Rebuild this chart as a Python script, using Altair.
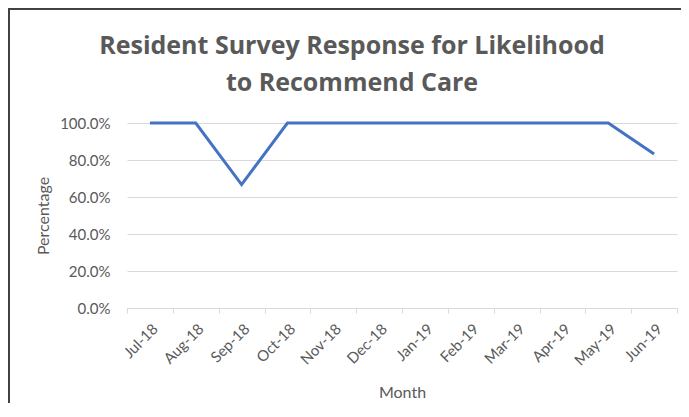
import altair as alt
import pandas as pd

months = ["Jul-18", "Aug-18", "Sep-18", "Oct-18", "Nov-18", "Dec-18",
          "Jan-19", "Feb-19", "Mar-19", "Apr-19", "May-19", "Jun-19"]
values = [1.0, 1.0, 0.667, 1.0, 1.0, 1.0, 1.0, 1.0, 1.0, 1.0, 1.0, 0.833]
y_ticks = [0, 0.2, 0.4, 0.6, 0.8, 1.0]

df = pd.DataFrame({"Month": months, "Percentage": values})

FONT = "Lato"
GRAY = "#595959"

line = alt.Chart(df).mark_line(color="#4472C4", strokeWidth=3).encode(
    x=alt.X("Month:N", sort=months,
            scale=alt.Scale(paddingInner=0, paddingOuter=0),
            axis=alt.Axis(title="Month", labelAngle=-45, tickBand="extent",
                          domainColor="#d9d9d9", tickColor="#d9d9d9", tickSize=5,
                          labelColor=GRAY, labelFontSize=15, labelFont=FONT,
                          labelPadding=8,
                          titleColor=GRAY, titleFontSize=16, titleFont=FONT,
                          titleFontWeight="normal", titlePadding=16, grid=False)),
    y=alt.Y("Percentage:Q", scale=alt.Scale(domain=[0, 1]),
            axis=alt.Axis(title="Percentage", format=".1%",
                          values=y_ticks, labelOverlap=False,
                          domain=False, ticks=False, gridColor="#d9d9d9",
                          labelColor=GRAY, labelFontSize=15, labelFont=FONT,
                          labelPadding=17,
                          titleColor=GRAY, titleFontSize=16, titleFont=FONT,
                          titleFontWeight="normal", titlePadding=8)),
)

top_border = alt.Chart(df).mark_rule(color="#404040", strokeWidth=1.5).encode(
    x=alt.value(-119), x2=alt.value(560), y=alt.value(-114.5)
)
left_border = alt.Chart(df).mark_rule(color="#404040", strokeWidth=1.5).encode(
    x=alt.value(-118.5), y=alt.value(-115), y2=alt.value(300)
)

chart = alt.layer(top_border, left_border, line).properties(
    width=550, height=185,
    padding={"left": 119, "top": 115, "right": 4, "bottom": 95},
    autosize=alt.AutoSizeParams(type="none"),
    title=alt.TitleParams(
        text=["Resident Survey Response for Likelihood", "to Recommend Care"],
        fontSize=25, fontWeight="bold", color=GRAY, font="Open Sans",
        anchor="middle", frame="group", dx=-50, offset=-89, lineHeight=37,
    ),
).configure_view(stroke=None)

chart.save("out.html", embed_options={"renderer": "svg", "actions": False})
